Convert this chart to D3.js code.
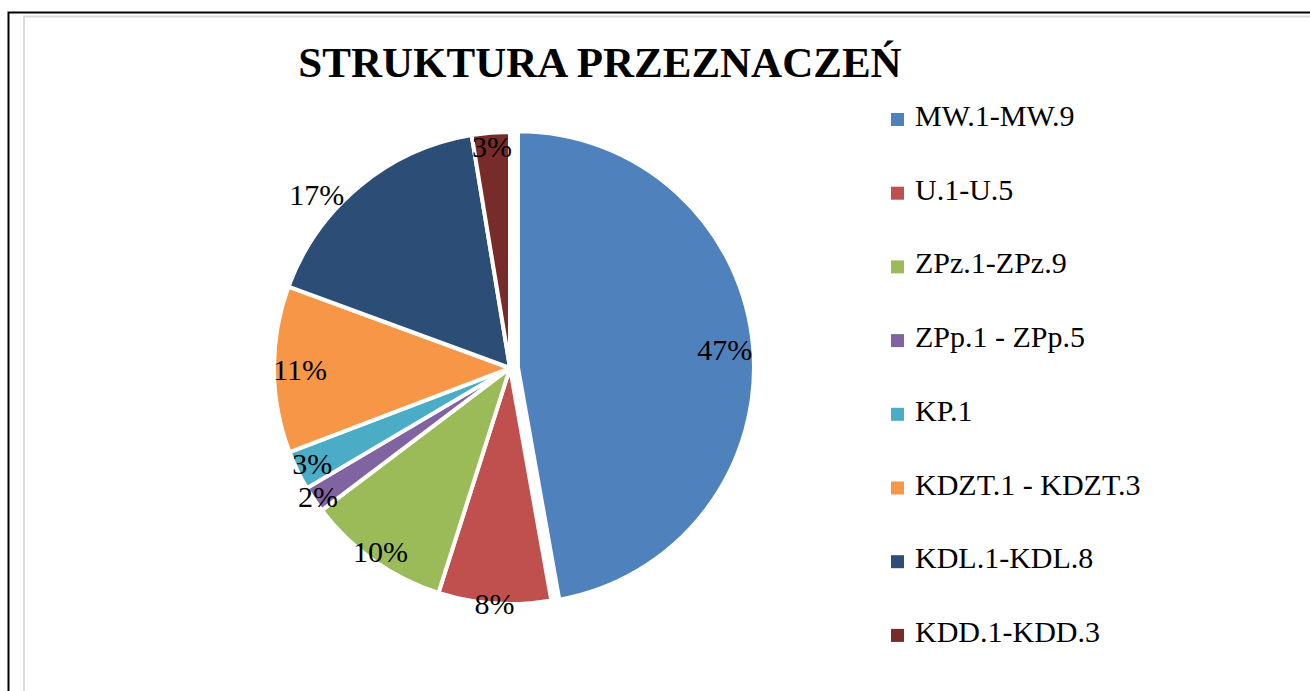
<!DOCTYPE html>
<html>
<head>
<meta charset="utf-8">
<script src="https://cdn.jsdelivr.net/npm/d3@7"></script>
<style>
  body { margin: 0; background: #fff; }
  text { font-family: "Liberation Serif", "Times New Roman", serif; }
</style>
</head>
<body>
<svg id="chart"></svg>
<script>
// Data (shares, %)
const categories = ['MW.1-MW.9', 'U.1-U.5', 'ZPz.1-ZPz.9', 'ZPp.1 - ZPp.5', 'KP.1', 'KDZT.1 - KDZT.3', 'KDL.1-KDL.8', 'KDD.1-KDD.3'];
const shares = [47.2, 7.7, 9.8, 1.8, 2.7, 11.4, 16.8, 2.6];
const colors = ['#4F81BD', '#C0504D', '#9BBB59', '#8064A2', '#4BACC6', '#F79646', '#2C4D75', '#772C2A'];

const width = 1310, height = 691;
const cx = 510, cy = 368, radius = 236;
const explodeOffset = 8;          // first slice pulled out
const labelRadius = [0.88, 1.0, 0.95, 0.98, 0.93, 0.89, 1.1, 0.94];
const labelNudge = [0, 0, 0, 0, 0, 0, -8.5, 0]; // degrees, best-fit shifts

const data = categories.map((c, i) => ({name: c, value: shares[i], color: colors[i]}));
const total = d3.sum(shares);
const pct = d3.format('.0%');

const svg = d3.select('#chart')
  .attr('width', width)
  .attr('height', height);

// chart frame
svg.append('rect')
  .attr('x', 8.5).attr('y', 12.5)
  .attr('width', 1400).attr('height', 800)
  .attr('fill', 'none').attr('stroke', '#000').attr('stroke-width', 2);
svg.append('rect')
  .attr('x', 24).attr('y', 16.5)
  .attr('width', 1400).attr('height', 800)
  .attr('fill', 'none').attr('stroke', '#d9d9d9').attr('stroke-width', 2);

// title
svg.append('text')
  .attr('x', 600).attr('y', 77)
  .attr('text-anchor', 'middle')
  .attr('font-size', 43)
  .attr('font-weight', 'bold')
  .text('STRUKTURA PRZEZNACZEŃ');

const pie = d3.pie().sort(null).value(d => d.value);
const arcs = pie(data);
const arc = d3.arc().innerRadius(0).outerRadius(radius);

const g = svg.append('g').attr('transform', `translate(${cx},${cy})`);

const offsetOf = (d, i) => {
  if (i !== 0) return [0, 0];
  const mid = (d.startAngle + d.endAngle) / 2;
  return [Math.sin(mid) * explodeOffset, -Math.cos(mid) * explodeOffset];
};

g.selectAll('.slice')
  .data(arcs)
  .join('path')
  .attr('class', 'slice')
  .attr('transform', (d, i) => `translate(${offsetOf(d, i)})`)
  .attr('d', arc)
  .attr('fill', d => d.data.color)
  .attr('stroke', '#fff')
  .attr('stroke-width', 4)
  .attr('stroke-linejoin', 'round');

g.selectAll('.label')
  .data(arcs)
  .join('text')
  .attr('class', 'label')
  .attr('transform', (d, i) => {
    const off = offsetOf(d, i);
    const a = (d.startAngle + d.endAngle) / 2 + labelNudge[i] * Math.PI / 180;
    const r = radius * labelRadius[i];
    return `translate(${off[0] + Math.sin(a) * r},${off[1] - Math.cos(a) * r})`;
  })
  .attr('text-anchor', 'middle')
  .attr('dy', '0.35em')
  .attr('font-size', 30)
  .attr('fill', '#000')
  .text(d => pct(d.data.value / total));

// legend
const legend = svg.append('g').attr('transform', 'translate(891,126)');
const item = legend.selectAll('.item')
  .data(data)
  .join('g')
  .attr('class', 'item')
  .attr('transform', (d, i) => `translate(0,${i * 73.7})`);
item.append('rect')
  .attr('x', 0).attr('y', -13)
  .attr('width', 13).attr('height', 13)
  .attr('fill', d => d.color);
item.append('text')
  .attr('x', 24).attr('y', 0)
  .attr('font-size', 30)
  .text(d => d.name);
</script>
</body>
</html>
